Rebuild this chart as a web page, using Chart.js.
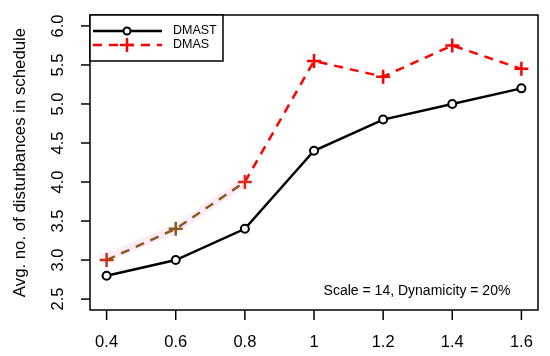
<!DOCTYPE html>
<html>
<head>
<meta charset="utf-8">
<script src="https://cdn.jsdelivr.net/npm/chart.js@4/dist/chart.umd.min.js"></script>
<style>
  html, body { margin: 0; padding: 0; background: #fff; }
  canvas { display: block; }
</style>
</head>
<body>
<canvas id="chart" width="550" height="356"></canvas>
<script>
// values
const xValues = [0.4, 0.6, 0.8, 1.0, 1.2, 1.4, 1.6];
const dmast = [2.8, 3.0, 3.4, 4.4, 4.8, 5.0, 5.2];
const dmas = [3.0, 3.4, 4.0, 5.55, 5.35, 5.75, 5.45];

const xTicks = [0.4, 0.6, 0.8, 1.0, 1.2, 1.4, 1.6];
const xTickLabels = ['0.4', '0.6', '0.8', '1', '1.2', '1.4', '1.6'];
const yTicks = [2.5, 3.0, 3.5, 4.0, 4.5, 5.0, 5.5, 6.0];
const yTickLabels = ['2.5', '3.0', '3.5', '4.0', '4.5', '5.0', '5.5', '6.0'];

const seriesNames = ['DMAST', 'DMAS'];
const yTitle = 'Avg. no. of disturbances in schedule';
const note = 'Scale = 14, Dynamicity = 20%';

const FONT = '"Liberation Sans", Arial, Helvetica, sans-serif';
const RED = '#ff0000';
const BROWN = '#8c5a1e';

function points(ys) {
    return xValues.map((x, i) => ({ x: x, y: ys[i] }));
}

// the pinkish halo under the first DMAS segments in the reference
const halo = {
    id: 'halo',
    beforeDatasetsDraw(chart) {
        const meta = chart.getDatasetMeta(1);
        const c = chart.ctx;
        c.save();
        c.strokeStyle = 'rgba(250, 215, 243, 0.5)';
        c.lineWidth = 9;
        c.beginPath();
        for (let i = 0; i < 3; i++) {
            const p = meta.data[i];
            if (i === 0) c.moveTo(p.x - 6, p.y); else c.lineTo(p.x, p.y);
        }
        c.stroke();
        c.restore();
    }
};

const frame = {
    id: 'frame',
    afterDraw(chart) {
        const c = chart.ctx;
        const a = chart.chartArea;
        const xs = chart.scales.x;
        const ys = chart.scales.y;
        c.save();
        c.strokeStyle = '#000';
        c.fillStyle = '#000';
        c.lineWidth = 1.5;
        c.strokeRect(a.left, a.top, a.right - a.left, a.bottom - a.top);

        // x ticks
        c.font = '16.5px ' + FONT;
        c.textAlign = 'center';
        c.textBaseline = 'middle';
        xTicks.forEach((v, i) => {
            const px = xs.getPixelForValue(v);
            c.beginPath();
            c.moveTo(px, a.bottom);
            c.lineTo(px, a.bottom + 10);
            c.stroke();
            c.fillText(xTickLabels[i], px, 342);
        });

        // y ticks, labels rotated like R
        yTicks.forEach((v, i) => {
            const py = ys.getPixelForValue(v);
            c.beginPath();
            c.moveTo(a.left - 9, py);
            c.lineTo(a.left, py);
            c.stroke();
            c.save();
            c.translate(58, py);
            c.rotate(-Math.PI / 2);
            c.fillText(yTickLabels[i], 0, 0);
            c.restore();
        });

        // y title
        c.save();
        c.font = '16.8px ' + FONT;
        c.translate(20, (a.top + a.bottom) / 2);
        c.rotate(-Math.PI / 2);
        c.fillText(yTitle, 0, 0);
        c.restore();

        // note
        c.font = '14px ' + FONT;
        c.fillText(note, 417, 291);

        // legend
        const lx = a.left, ly = a.top;
        c.fillStyle = '#fff';
        c.fillRect(lx, ly, 133, 46);
        c.strokeRect(lx, ly, 133, 46);

        c.lineWidth = 2.5;
        c.beginPath();
        c.moveTo(lx + 3, ly + 16);
        c.lineTo(lx + 72, ly + 16);
        c.stroke();
        c.fillStyle = '#fff';
        c.lineWidth = 2;
        c.beginPath();
        c.arc(lx + 37, ly + 16, 3.5, 0, Math.PI * 2);
        c.fill();
        c.stroke();

        c.strokeStyle = RED;
        c.lineWidth = 2.5;
        c.setLineDash([9, 7]);
        c.beginPath();
        c.moveTo(lx + 3, ly + 30);
        c.lineTo(lx + 72, ly + 30);
        c.stroke();
        c.setLineDash([]);
        c.beginPath();
        c.moveTo(lx + 30, ly + 30);
        c.lineTo(lx + 44, ly + 30);
        c.moveTo(lx + 37, ly + 23);
        c.lineTo(lx + 37, ly + 37);
        c.stroke();

        c.fillStyle = '#000';
        c.font = '12.5px ' + FONT;
        c.textAlign = 'left';
        c.fillText(seriesNames[0], lx + 83, ly + 16);
        c.fillText(seriesNames[1], lx + 83, ly + 30);
        c.restore();
    }
};

new Chart(document.getElementById('chart'), {
    type: 'line',
    data: {
        datasets: [
            {
                label: seriesNames[0],
                data: points(dmast),
                borderColor: '#000',
                borderWidth: 2.5,
                pointStyle: 'circle',
                pointRadius: 4,
                pointBorderWidth: 2,
                pointBackgroundColor: '#fff',
                pointBorderColor: '#000',
                tension: 0
            },
            {
                label: seriesNames[1],
                data: points(dmas),
                borderColor: RED,
                borderWidth: 2.5,
                borderDash: [9, 7],
                segment: {
                    borderColor: ctx => (ctx.p0DataIndex < 2 ? BROWN : RED)
                },
                pointStyle: 'cross',
                pointRadius: 7,
                pointBorderWidth: 2.5,
                pointBorderColor: ['#c03a1a', '#8c5a1e', '#e0281a', RED, RED, RED, RED],
                tension: 0
            }
        ]
    },
    options: {
        responsive: false,
        animation: false,
        layout: { padding: { top: 15, right: 12, left: 0, bottom: 0 } },
        plugins: {
            legend: { display: false },
            tooltip: { enabled: false }
        },
        scales: {
            x: {
                type: 'linear',
                min: 0.352,
                max: 1.648,
                grid: { display: false },
                border: { display: false },
                ticks: { display: false },
                afterFit: s => { s.height = 46; }
            },
            y: {
                min: 2.36,
                max: 6.14,
                grid: { display: false },
                border: { display: false },
                ticks: { display: false },
                afterFit: s => { s.width = 90; }
            }
        }
    },
    plugins: [halo, frame]
});
</script>
</body>
</html>
